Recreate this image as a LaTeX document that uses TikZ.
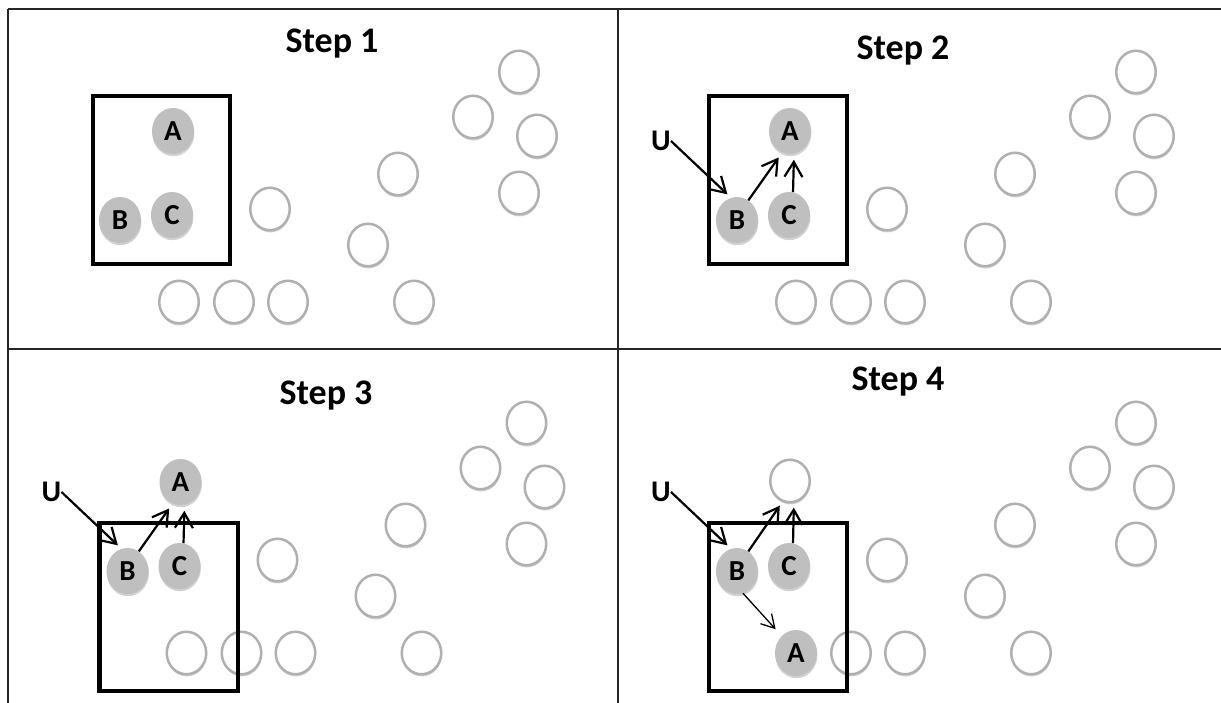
\documentclass[tikz,border=0pt]{standalone}
\usepackage{fontspec}
\setmainfont{Carlito}
\usetikzlibrary{arrows.meta,shadows,shapes.geometric}
\definecolor{ballgray}{HTML}{BFBFBF}
\definecolor{rimgray}{HTML}{B0B0B0}
\tikzset{
  softshadow/.style={drop shadow={shadow xshift=0.4pt,shadow yshift=-2.2pt,opacity=0.18,fill=black}},
  emptyball/.style={ellipse,minimum width=39.5pt,minimum height=42.5pt,inner sep=0pt,
    draw=rimgray,line width=2.5pt,fill=white,softshadow},
  fullball/.style={ellipse,minimum width=42pt,minimum height=46pt,inner sep=0pt,
    fill=ballgray,softshadow,font=\fontsize{29pt}{29pt}\selectfont\bfseries},
  framebox/.style={line width=4.5pt,black},
  gridline/.style={line width=1.8pt,black!85},
  arr/.style={line width=2.2pt,-{Straight Barb[length=15pt,width=18pt]}},
  thinarr/.style={line width=1.3pt,-{Straight Barb[length=13pt,width=15pt]}},
  steptitle/.style={font=\fontsize{36pt}{40pt}\selectfont\bfseries,anchor=base,inner sep=0pt},
  ulabel/.style={font=\fontsize{30pt}{30pt}\selectfont\bfseries,inner sep=0pt},
}
\begin{document}
\begin{tikzpicture}[x=1pt,y=-1pt]
\useasboundingbox (0,0) rectangle (1221,703);
\fill[white] (0,0) rectangle (1221,703);

% ---------- Panel 1 ----------
\begin{scope}
  \foreach \px/\py [count=\i] in {270/209,398/174,473/117,519/72,537/136,519/193,368/245,179/302,234/302,288/302,414/302}
    \node[emptyball] (p1w\i) at (\px,\py) {};
  \draw[framebox] (93,96) rectangle (230,264);
  \node[fullball] (p1A) at (173,131) {A};
  \node[fullball] (p1B) at (120,220) {B};
  \node[fullball] (p1C) at (172,215) {C};
\end{scope}
\node[steptitle] (t1) at (332,53) {Step 1};

% ---------- Panel 2 ----------
\begin{scope}[shift={(617,0)}]
  \foreach \px/\py [count=\i] in {270/209,398/174,473/117,519/72,537/136,519/193,368/245,179/302,234/302,288/302,414/302}
    \node[emptyball] (p2w\i) at (\px,\py) {};
  \draw[framebox] (92,96) rectangle (230,264);
  \node[fullball] (p2A) at (173,131) {A};
  \node[fullball] (p2B) at (120,220) {B};
  \node[fullball] (p2C) at (172,215) {C};
  \node[ulabel] (p2U) at (44,141) {U};
  \draw[arr,shorten >=5pt] (p2U.east) -- (p2B.105);
  \draw[arr,shorten >=6pt] (p2B.60) -- (p2A.250);
  \draw[arr,shorten >=6pt] (p2C.80) -- (p2A.280);
\end{scope}
\node[steptitle] (t2) at (903,60) {Step 2};

% ---------- Panel 3 ----------
\begin{scope}[shift={(7.5,351)}]
  \foreach \px/\py [count=\i] in {270/209,398/174,473/117,519/72,537/136,519/193,368/245,179/302,234/302,288/302,414/302}
    \node[emptyball] (p3w\i) at (\px,\py) {};
  \draw[framebox] (92,172) rectangle (230.5,340);
  \node[fullball] (p3A) at (173,131) {A};
  \node[fullball] (p3B) at (120,220) {B};
  \node[fullball] (p3C) at (172,215) {C};
  \node[ulabel] (p3U) at (44,141) {U};
  \draw[arr,shorten >=5pt] (p3U.east) -- (p3B.105);
  \draw[arr,shorten >=6pt] (p3B.60) -- (p3A.250);
  \draw[arr,shorten >=6pt] (p3C.80) -- (p3A.280);
\end{scope}
\node[steptitle] (t3) at (326,404) {Step 3};

% ---------- Panel 4 ----------
\begin{scope}[shift={(617,351)}]
  \foreach \px/\py [count=\i] in {270/209,398/174,473/117,519/72,537/136,519/193,368/245,234/302,288/302,414/302}
    \node[emptyball] (p4w\i) at (\px,\py) {};
  \node[emptyball] (p4w0) at (173,130) {};
  \draw[framebox] (92,172) rectangle (230,340);
  \node[fullball] (p4A) at (179,302) {A};
  \node[fullball] (p4B) at (120,220) {B};
  \node[fullball] (p4C) at (172,215) {C};
  \node[ulabel] (p4U) at (44,141) {U};
  \draw[arr,shorten >=5pt] (p4U.east) -- (p4B.105);
  \draw[arr,shorten >=4.5pt] (p4B.60) -- (p4w0.250);
  \draw[arr,shorten >=4.5pt] (p4C.80) -- (p4w0.280);
  \draw[thinarr,shorten >=9pt] (p4B.285) -- (p4A.130);
\end{scope}
\node[steptitle] (t4) at (898,390) {Step 4};

% ---------- grid ----------
\draw[gridline] (8,9) -- (1221,9);
\draw[gridline] (8,9) -- (8,703);
\draw[gridline] (618,9) -- (618,703);
\draw[gridline] (8,349) -- (1221,349);
\end{tikzpicture}
\end{document}
